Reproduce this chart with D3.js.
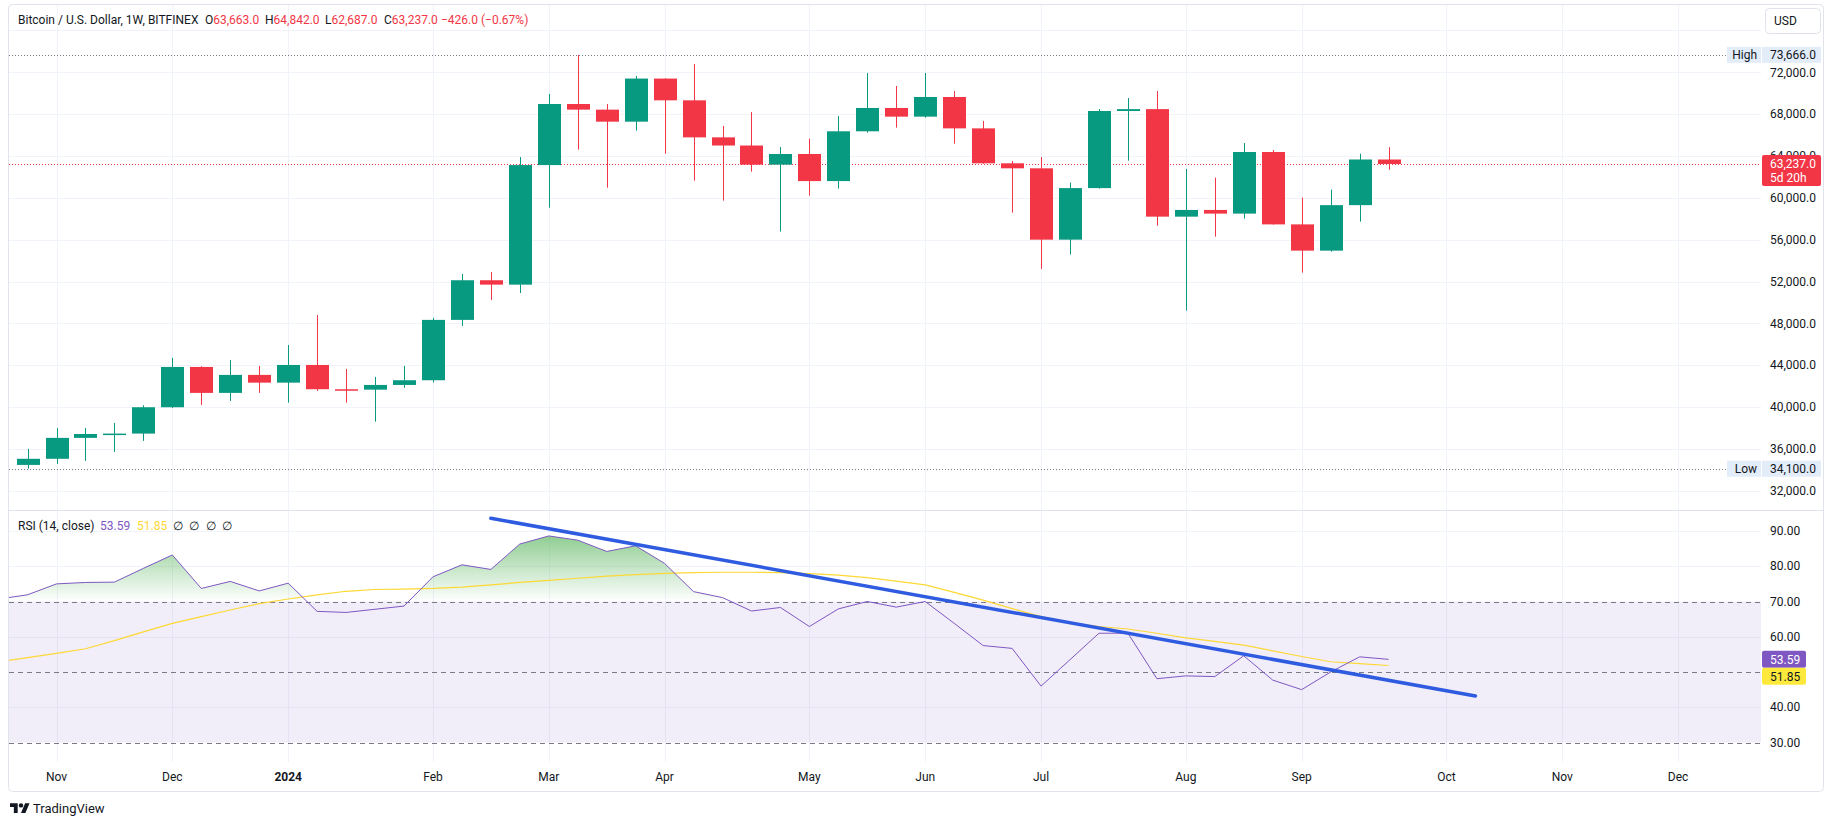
<!DOCTYPE html>
<html>
<head>
<meta charset="utf-8">
<script src="https://cdnjs.cloudflare.com/ajax/libs/d3/7.8.5/d3.min.js"></script>
<style>
body { margin: 0; background: #fff; }
svg text { font-family: Roboto, "Noto Sans", sans-serif; fill: #131722; }
</style>
</head>
<body>
<div id="vis"></div>
<script>
// weekly candles, BTC/USD Bitfinex
var weeks = ["2023-10-30","2023-11-06","2023-11-13","2023-11-20","2023-11-27","2023-12-04","2023-12-11","2023-12-18","2023-12-25",
  "2024-01-01","2024-01-08","2024-01-15","2024-01-22","2024-01-29","2024-02-05","2024-02-12","2024-02-19","2024-02-26",
  "2024-03-04","2024-03-11","2024-03-18","2024-03-25","2024-04-01","2024-04-08","2024-04-15","2024-04-22","2024-04-29",
  "2024-05-06","2024-05-13","2024-05-20","2024-05-27","2024-06-03","2024-06-10","2024-06-17","2024-06-24","2024-07-01",
  "2024-07-08","2024-07-15","2024-07-22","2024-07-29","2024-08-05","2024-08-12","2024-08-19","2024-08-26","2024-09-02",
  "2024-09-09","2024-09-16","2024-09-23"];
var open = [34465,35050,37050,37420,37460,39980,43830,41350,43070,42330,44020,41700,41660,42110,42560,48330,52120,51700,
  63130,68970,68430,67280,71400,69320,65780,65000,63170,64190,61600,66360,68590,67760,69640,66640,63300,62820,56000,60930,
  68300,68480,58200,58840,58490,64380,57460,54950,59300,63663];
var high = [35995,38000,38000,38480,40170,44700,43900,44500,43930,45930,48800,43640,42880,43930,48520,52720,52910,63900,
  69930,73666,68970,71650,71420,72790,66870,68200,64860,65660,67820,71930,70690,71930,70210,67350,63520,63900,61450,68490,
  69540,70210,62760,61930,65240,64570,60020,60780,64220,64842];
var low = [34100,34560,34850,35700,36760,39900,40200,40580,41350,40420,41540,40420,38600,41830,42340,47750,50240,50900,
  59060,64600,60970,66420,64220,61640,59730,62500,56770,60210,60880,66230,66710,67660,65180,63250,58580,53200,54570,60880,
  63550,57340,49220,56290,58010,57440,52850,54850,57720,62687];
var close = [35050,37050,37420,37460,39980,43830,41350,43070,42330,44020,41700,41660,42110,42560,48330,52120,51700,63130,
  68970,68430,67280,71400,69320,65780,65000,63170,64190,61600,66360,68590,67760,69640,66640,63300,62820,56000,60930,68300,
  68480,58200,58840,58490,64380,57460,54950,59300,63663,63237];

// RSI(14) and its moving average, one week earlier start
var rsiStart = "2023-10-23";
var rsi = [70.7,71.9,75.0,75.4,75.5,79.4,83.2,73.7,75.7,73.0,75.2,67.2,66.9,67.8,68.7,77.0,80.4,79.1,86.3,88.6,87.4,84.2,
  85.8,80.8,72.8,71.1,67.3,68.3,62.9,67.9,70.0,68.4,70.0,63.8,57.5,56.7,46.0,53.5,61.0,61.0,48.1,48.9,48.7,54.6,47.7,45.0,
  50.0,54.3,53.59];
var rsiMa = [52.8,54.1,55.3,56.6,58.9,61.4,63.8,65.7,67.6,69.4,70.7,71.9,72.9,73.4,73.5,73.7,74.1,74.7,75.4,76.0,76.6,77.2,
  77.6,78.0,78.2,78.3,78.3,78.2,77.9,77.5,76.8,75.8,74.7,72.6,70.4,68.0,65.7,64.0,62.9,62.2,61.0,59.7,58.7,57.6,56.0,54.4,
  52.9,52.4,51.85];

// drawn trend line on RSI
var trendWeeks = ["2024-02-19","2024-10-14"];
var trendRsi = [93.6, 43.2];

var priceTicks = [32000,36000,40000,44000,48000,52000,56000,60000,64000,68000,72000];
var priceGrid = [32000,36000,40000,44000,48000,52000,56000,60000,64000,68000,72000,76000];
var rsiTicks = [30,40,60,70,80,90];
var rsiGrid = [40,60,80,90];
var rsiLevels = [30,50,70];
var monthStarts = ["2023-11-01","2023-12-01","2024-01-01","2024-02-01","2024-03-01","2024-04-01","2024-05-01",
  "2024-06-01","2024-07-01","2024-08-01","2024-09-01","2024-10-01","2024-11-01","2024-12-01"];
var monthLabels = ["Nov","Dec","2024","Feb","Mar","Apr","May","Jun","Jul","Aug","Sep","Oct","Nov","Dec"];

var hiVal = 73666, loVal = 34100, lastVal = 63237;

var up = '#089981', down = '#F23645', grid = '#f0f3fa', border = '#e0e3eb';
var plotL = 9, plotR = 1761, axisX = 1770;
var paneTop = 4, paneSep = 510, rsiBottom = 762, frameBottom = 791;

var parse = d3.utcParse('%Y-%m-%d');
var candles = weeks.map(function(w, i) {
  return {date: parse(w), o: open[i], h: high[i], l: low[i], c: close[i]};
});
var rsiDates = d3.utcMondays(parse(rsiStart), d3.utcDay.offset(parse(weeks[weeks.length-1]), 1));
var rsiData = rsiDates.map(function(d, i) { return {date: d, v: rsi[i], m: rsiMa[i]}; });

var svg = d3.select('#vis').append('svg').attr('width', 1835).attr('height', 826);

var x = d3.scaleUtc()
  .domain([parse('2023-11-06'), parse('2024-11-04')])
  .range([56.5, 1562.3]);
var y = d3.scaleLinear().domain([32000, 72000]).range([490.7, 72.3]);
var yr = d3.scaleLinear().domain([30, 70]).range([742.5, 601.5]);

var defs = svg.append('defs');
defs.append('clipPath').attr('id', 'pclip').append('rect')
  .attr('x', plotL).attr('y', paneTop).attr('width', plotR - plotL).attr('height', paneSep - paneTop);
defs.append('clipPath').attr('id', 'rclip').append('rect')
  .attr('x', plotL).attr('y', paneSep).attr('width', plotR - plotL).attr('height', rsiBottom - paneSep);
defs.append('clipPath').attr('id', 'obclip').append('rect')
  .attr('x', plotL).attr('y', paneSep).attr('width', plotR - plotL).attr('height', yr(70) - paneSep);
var grad = defs.append('linearGradient').attr('id', 'obgrad')
  .attr('gradientUnits', 'userSpaceOnUse')
  .attr('x1', 0).attr('x2', 0).attr('y1', yr(100)).attr('y2', yr(70));
grad.append('stop').attr('offset', 0).attr('stop-color', 'rgb(76,175,80)').attr('stop-opacity', 1);
grad.append('stop').attr('offset', 1).attr('stop-color', 'rgb(76,175,80)').attr('stop-opacity', 0);

// month gridlines
var monthTicks = monthStarts.map(function(s) { return d3.utcMonday.ceil(parse(s)); });
svg.selectAll('line.vgrid')
  .data(monthTicks).enter().append('line')
  .attr('class', 'vgrid')
  .attr('x1', function(d) { return Math.round(x(d)) + 0.5; })
  .attr('x2', function(d) { return Math.round(x(d)) + 0.5; })
  .attr('y1', paneTop).attr('y2', rsiBottom)
  .attr('stroke', grid);

// ---- price pane
var pp = svg.append('g').attr('clip-path', 'url(#pclip)');
pp.selectAll('line.hgrid')
  .data(priceGrid).enter().append('line')
  .attr('x1', plotL).attr('x2', plotR)
  .attr('y1', function(d) { return Math.round(y(d)) + 0.5; })
  .attr('y2', function(d) { return Math.round(y(d)) + 0.5; })
  .attr('stroke', grid);

pp.selectAll('line.hilo')
  .data([hiVal, loVal]).enter().append('line')
  .attr('x1', plotL).attr('x2', plotR)
  .attr('y1', function(d) { return Math.round(y(d)) + 0.5; })
  .attr('y2', function(d) { return Math.round(y(d)) + 0.5; })
  .attr('stroke', '#787b86').attr('stroke-dasharray', '1,2');

pp.append('line')
  .attr('x1', plotL).attr('x2', plotR)
  .attr('y1', Math.round(y(lastVal)) + 0.5).attr('y2', Math.round(y(lastVal)) + 0.5)
  .attr('stroke', down).attr('stroke-dasharray', '1,2');

var bw = 23;
pp.selectAll('line.wick')
  .data(candles).enter().append('line')
  .attr('x1', function(d) { return Math.round(x(d.date)) + 0.5; })
  .attr('x2', function(d) { return Math.round(x(d.date)) + 0.5; })
  .attr('y1', function(d) { return y(d.h); })
  .attr('y2', function(d) { return y(d.l); })
  .attr('stroke', function(d) { return d.c >= d.o ? up : down; });

pp.selectAll('rect.body')
  .data(candles).enter().append('rect')
  .attr('x', function(d) { return Math.round(x(d.date)) + 0.5 - bw / 2; })
  .attr('y', function(d) { return y(Math.max(d.o, d.c)); })
  .attr('width', bw)
  .attr('height', function(d) { return Math.max(1.5, Math.abs(y(d.o) - y(d.c))); })
  .attr('fill', function(d) { return d.c >= d.o ? up : down; });

// ---- RSI pane
var rp = svg.append('g').attr('clip-path', 'url(#rclip)');
rp.selectAll('line.rgrid')
  .data(rsiGrid).enter().append('line')
  .attr('x1', plotL).attr('x2', plotR)
  .attr('y1', function(d) { return Math.round(yr(d)) + 0.5; })
  .attr('y2', function(d) { return Math.round(yr(d)) + 0.5; })
  .attr('stroke', grid);

rp.append('rect')
  .attr('x', plotL).attr('width', plotR - plotL)
  .attr('y', yr(70)).attr('height', yr(30) - yr(70))
  .attr('fill', 'rgba(126,87,194,0.1)');

rp.selectAll('line.level')
  .data(rsiLevels).enter().append('line')
  .attr('x1', plotL).attr('x2', plotR)
  .attr('y1', function(d) { return Math.round(yr(d)) + 0.5; })
  .attr('y2', function(d) { return Math.round(yr(d)) + 0.5; })
  .attr('stroke', '#787b86').attr('stroke-dasharray', '5,4');

var ob = d3.area()
  .x(function(d) { return x(d.date); })
  .y0(yr(70))
  .y1(function(d) { return yr(d.v); });
rp.append('path').datum(rsiData)
  .attr('clip-path', 'url(#obclip)')
  .attr('d', ob).attr('fill', 'url(#obgrad)');

rp.append('path').datum(rsiData)
  .attr('d', d3.line().x(function(d) { return x(d.date); }).y(function(d) { return yr(d.m); }))
  .attr('fill', 'none').attr('stroke', '#FDD835').attr('stroke-width', 1.2);

rp.append('path').datum(rsiData)
  .attr('d', d3.line().x(function(d) { return x(d.date); }).y(function(d) { return yr(d.v); }))
  .attr('fill', 'none').attr('stroke', '#7E57C2').attr('stroke-width', 1);

rp.append('line')
  .attr('x1', x(parse(trendWeeks[0]))).attr('y1', yr(trendRsi[0]))
  .attr('x2', x(parse(trendWeeks[1]))).attr('y2', yr(trendRsi[1]))
  .attr('stroke', '#2f5be0').attr('stroke-width', 3.5).attr('stroke-linecap', 'round');

// ---- frame
svg.append('rect')
  .attr('x', plotL - 0.5).attr('y', paneTop + 0.5)
  .attr('width', 1824 - plotL).attr('height', frameBottom - paneTop)
  .attr('rx', 4).attr('fill', 'none').attr('stroke', border);
svg.append('line')
  .attr('x1', plotL).attr('x2', 1824)
  .attr('y1', paneSep + 0.5).attr('y2', paneSep + 0.5)
  .attr('stroke', border);

// ---- axes labels
var fmtP = d3.format(',.1f'), fmtR = d3.format('.2f');
svg.selectAll('text.pt')
  .data(priceTicks).enter().append('text')
  .attr('x', axisX).attr('y', function(d) { return y(d); })
  .attr('dy', '0.35em').attr('font-size', 12)
  .text(function(d) { return fmtP(d); });

svg.selectAll('text.rt')
  .data(rsiTicks).enter().append('text')
  .attr('x', axisX).attr('y', function(d) { return yr(d); })
  .attr('dy', '0.35em').attr('font-size', 12)
  .text(function(d) { return fmtR(d); });

svg.selectAll('text.mt')
  .data(monthTicks).enter().append('text')
  .attr('x', function(d) { return x(d); }).attr('y', 777)
  .attr('dy', '0.35em').attr('text-anchor', 'middle').attr('font-size', 12)
  .attr('font-weight', function(d, i) { return monthLabels[i] === '2024' ? 'bold' : null; })
  .text(function(d, i) { return monthLabels[i]; });

// high / low tags
[hiVal, loVal].forEach(function(v, i) {
  var cy = y(v);
  svg.append('rect').attr('x', 1727).attr('y', cy - 8).attr('width', 34).attr('height', 16).attr('fill', '#e3ecf9');
  svg.append('rect').attr('x', 1762).attr('y', cy - 8).attr('width', 59).attr('height', 16).attr('fill', '#e3ecf9');
  svg.append('text').attr('x', 1757).attr('y', cy).attr('dy', '0.35em').attr('text-anchor', 'end')
    .attr('font-size', 12).text(i === 0 ? 'High' : 'Low');
  svg.append('text').attr('x', axisX).attr('y', cy).attr('dy', '0.35em')
    .attr('font-size', 12).text(fmtP(v));
});

// last price tag
var ly = y(lastVal);
svg.append('rect').attr('x', 1762).attr('y', ly - 9).attr('width', 59).attr('height', 31).attr('rx', 2).attr('fill', down);
svg.append('text').attr('x', axisX).attr('y', ly).attr('dy', '0.35em').attr('font-size', 12)
  .style('fill', '#fff').text(fmtP(lastVal));
svg.append('text').attr('x', axisX).attr('y', ly + 14).attr('dy', '0.35em').attr('font-size', 12)
  .style('fill', '#fff').text('5d 20h');

// rsi value tags
var lastR = rsiData[rsiData.length - 1];
var ry1 = yr(lastR.v), ry2 = Math.max(yr(lastR.m), ry1 + 17);
svg.append('rect').attr('x', 1762).attr('y', ry1 - 8.5).attr('width', 44).attr('height', 17).attr('rx', 2).attr('fill', '#7E57C2');
svg.append('text').attr('x', axisX).attr('y', ry1).attr('dy', '0.35em').attr('font-size', 12)
  .style('fill', '#fff').text(fmtR(lastR.v));
svg.append('rect').attr('x', 1762).attr('y', ry2 - 8.5).attr('width', 44).attr('height', 17).attr('rx', 2).attr('fill', '#FDE93B');
svg.append('text').attr('x', axisX).attr('y', ry2).attr('dy', '0.35em').attr('font-size', 12)
  .text(fmtR(lastR.m));

// currency box
svg.append('rect').attr('x', 1765.5).attr('y', 8.5).attr('width', 55).attr('height', 25).attr('rx', 4)
  .attr('fill', '#fff').attr('stroke', border);
svg.append('text').attr('x', 1774).attr('y', 21).attr('dy', '0.35em').attr('font-size', 12).text('USD');

// ---- legends
var head = svg.append('text').attr('y', 20).attr('dy', '0.35em').attr('font-size', 12);
head.append('tspan').attr('x', 18).text('Bitcoin / U.S. Dollar, 1W, BITFINEX');
var ohlc = [['O', open[open.length-1]], ['H', high[high.length-1]], ['L', low[low.length-1]], ['C', close[close.length-1]]];
var ohlcX = [205, 265, 325, 384];
ohlc.forEach(function(p, i) {
  head.append('tspan').attr('x', ohlcX[i]).text(p[0]);
  head.append('tspan').style('fill', down).text(fmtP(p[1]));
});
var chg = close[close.length-1] - open[open.length-1];
head.append('tspan').attr('x', 441).style('fill', down)
  .text(fmtP(chg).replace('-', '\u2212') + ' (' + d3.format('.2f')(chg / open[open.length-1] * 100).replace('-', '\u2212') + '%)');

var leg = svg.append('text').attr('y', 526).attr('dy', '0.35em').attr('font-size', 12);
leg.append('tspan').attr('x', 18).text('RSI (14, close)');
leg.append('tspan').attr('x', 100).style('fill', '#7E57C2').text(fmtR(lastR.v));
leg.append('tspan').attr('x', 137).style('fill', '#FDD835').text(fmtR(lastR.m));
[173, 189, 206, 222].forEach(function(px) {
  leg.append('tspan').attr('x', px).text('\u2205');
});

// ---- footer logo
var logo = svg.append('g').attr('transform', 'translate(10,801) scale(0.55)').attr('fill', '#131722');
logo.append('path').attr('d', 'M14 22H7V11H0V4h14v18zM28 22h-8l7.5-18h8L28 22z');
logo.append('circle').attr('cx', 20).attr('cy', 8).attr('r', 4);
svg.append('text').attr('x', 33).attr('y', 808).attr('dy', '0.35em').attr('font-size', 13).text('TradingView');
</script>
</body>
</html>
